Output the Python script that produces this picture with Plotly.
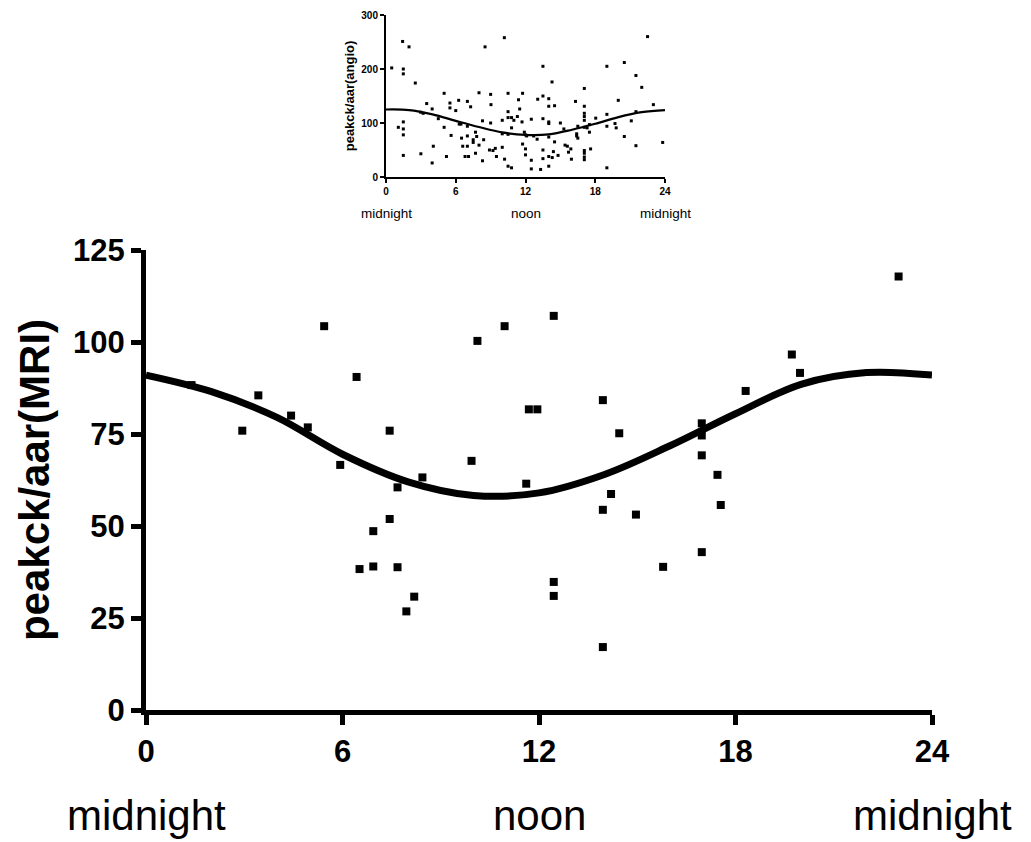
import plotly.graph_objects as go

# ---------------- data ----------------
mri_hour = [1.39, 2.94, 3.43, 4.43, 4.94, 5.44, 5.93, 6.43, 6.52, 6.94, 6.94,
            7.44, 7.44, 7.68, 7.68, 7.95, 8.19, 8.44,
            9.94, 10.12, 10.95, 11.61, 11.69, 11.95, 12.45, 12.45, 12.45,
            13.95, 13.95, 13.95, 14.2, 14.45, 14.96, 15.79,
            16.97, 16.97, 16.97, 16.97, 17.45, 17.55, 18.31, 19.72, 19.97, 22.98]
mri_value = [88.3, 75.9, 85.5, 80.0, 76.8, 104.3, 66.6, 90.5, 38.3, 48.6, 39.0,
             75.9, 51.9, 60.5, 38.8, 26.8, 30.8, 63.2,
             67.7, 100.3, 104.3, 61.5, 81.7, 81.7, 107.1, 34.8, 31.0,
             84.2, 54.4, 17.1, 58.7, 75.2, 53.1, 38.9,
             77.9, 74.6, 69.2, 42.9, 63.9, 55.7, 86.7, 96.6, 91.6, 117.8]
mri_fit_hour = [0, 2, 4, 6, 8, 10, 12, 14, 16, 18, 20, 22, 24]
mri_fit_value = [91, 86.5, 79.5, 69.5, 62, 58.3, 59, 64, 71.8, 80.5, 88.5, 91.7, 91]

angio_hour = [0.49, 1.43, 1.98, 1.49, 1.49, 2.52, 8.52, 10.18, 22.5, 13.5, 14.28, 19.0,
              20.5, 21.5, 22.0, 23.0, 19.98, 17.06,
              3.5, 3.97, 5.0, 5.5, 5.5, 6.25, 6.0, 7.0, 7.28, 8.0, 9.0, 9.03, 10.5,
              11.75, 11.4, 11.5, 13.05, 13.5, 14.0, 14.5, 14.0, 16.3, 17.06, 17.06, 17.06,
              4.5, 2.98, 1.49, 1.06, 1.49, 1.49, 5.0, 6.45, 7.0, 8.3, 9.0, 10.0, 10.5,
              10.5, 10.8, 11.0, 11.3, 10.0, 10.5, 10.8, 11.7, 11.9, 12.0, 12.5, 13.5,
              14.0, 14.0, 14.0, 15.0, 15.3, 16.5, 16.4, 16.5, 17.06, 17.06, 17.3, 17.5,
              18.04, 17.5, 19.0, 19.0, 19.7, 19.8, 21.1, 21.5, 20.5,
              4.07, 3.0, 1.49, 3.97, 5.2, 5.6, 6.5, 6.6, 7.0, 6.8, 7.1, 7.0, 7.7, 7.8,
              8.0, 7.7, 7.5, 7.5, 8.4, 8.3, 9.2, 9.4, 9.5, 10.0, 10.2, 10.5, 10.8,
              11.75, 12.0, 12.0, 12.5, 12.5, 13.3, 13.5, 13.5, 14.0, 14.0, 14.3, 14.5,
              14.4, 14.8, 15.4, 15.6, 15.7, 15.9, 15.95, 16.4, 17.06, 17.06, 17.06,
              17.06, 17.6, 19.0, 21.5, 23.8, 12.1, 12.7, 13.0, 6.3, 8.9, 3.2]
angio_value = [202, 251, 241, 200, 191, 174, 241, 258, 260, 205, 176, 205,
               212, 188, 166, 134, 142, 164,
               136, 126, 155, 137, 128, 142, 123, 140, 130, 156, 153, 134, 155,
               155, 143, 126, 144, 150, 145, 132, 131, 140, 131, 118, 112,
               108, 120, 102, 92, 89, 78, 92, 98, 94, 104, 100, 105, 121,
               110, 110, 105, 112, 80, 79, 91, 102, 83, 78, 107, 108,
               102, 99, 74, 100, 89, 94, 80, 72, 105, 92, 91, 83,
               109, 97, 116, 94, 99, 91, 104, 121, 75,
               57, 43, 40, 26, 38, 77, 72, 57, 57, 38, 38, 76, 83, 75,
               59, 44, 69, 64, 69, 30, 49, 53, 38, 55, 33, 20, 17,
               61, 52, 41, 31, 15, 14, 50, 34, 20, 38, 36, 65,
               47, 40, 59, 57, 46, 52, 33, 76, 49, 44, 37,
               32, 52, 17, 58, 64, 76, 76, 70, 98, 50, 118]
angio_fit_hour = [0, 2, 4, 6, 8, 10, 12, 14, 16, 18, 20, 22, 24]
angio_fit_value = [125, 124, 116, 104, 92.5, 82.5, 78, 79, 87.5, 98.5, 111, 120, 124]

tick_hours = [0, 6, 12, 18, 24]
main_y_ticks = [0, 25, 50, 75, 100, 125]
inset_y_ticks = [0, 100, 200, 300]
time_labels = ["midnight", "noon", "midnight"]
time_label_hours = [0, 12, 24]

FONT = "Liberation Sans, Arial, sans-serif"

fig = go.Figure()

# main chart
fig.add_trace(go.Scatter(x=mri_fit_hour, y=mri_fit_value, mode="lines",
                         line=dict(color="black", width=7, shape="spline"),
                         xaxis="x", yaxis="y", showlegend=False, hoverinfo="skip"))
fig.add_trace(go.Scatter(x=mri_hour, y=mri_value, mode="markers",
                         marker=dict(symbol="square", size=8, color="black"),
                         xaxis="x", yaxis="y", showlegend=False, cliponaxis=False))

# inset chart
fig.add_trace(go.Scatter(x=angio_fit_hour, y=angio_fit_value, mode="lines",
                         line=dict(color="black", width=2.2, shape="spline"),
                         xaxis="x2", yaxis="y2", showlegend=False, hoverinfo="skip"))
fig.add_trace(go.Scatter(x=angio_hour, y=angio_value, mode="markers",
                         marker=dict(symbol="square", size=3, color="black"),
                         xaxis="x2", yaxis="y2", showlegend=False, cliponaxis=False))

main_axis = dict(showgrid=False, zeroline=False, showline=True, linecolor="black",
                 linewidth=5, ticks="outside", ticklen=10, tickwidth=5,
                 tickcolor="black", automargin=False,
                 tickfont=dict(family=FONT, size=31, color="black", weight="bold"))
inset_axis = dict(showgrid=False, zeroline=False, showline=True, linecolor="black",
                  linewidth=2, ticks="outside", ticklen=4, tickwidth=2,
                  tickcolor="black", automargin=False,
                  tickfont=dict(family=FONT, size=10, color="black", weight="bold"))

annotations = []
for h, t in zip(time_label_hours, time_labels):
    annotations.append(dict(x=h, y=0.031, xref="x", yref="paper", text=t,
                            showarrow=False, xanchor="center", yanchor="middle",
                            font=dict(family=FONT, size=42, color="black")))
    annotations.append(dict(x=h, y=0.747, xref="x2", yref="paper", text=t,
                            showarrow=False, xanchor="center", yanchor="middle",
                            font=dict(family=FONT, size=13.5, color="black")))

fig.update_layout(
    width=1031, height=842,
    margin=dict(l=0, r=0, t=0, b=0),
    paper_bgcolor="white", plot_bgcolor="white",
    xaxis=dict(main_axis, domain=[146 / 1031, 932 / 1031], range=[0, 24],
               tickvals=tick_hours, anchor="y"),
    yaxis=dict(main_axis, domain=[1 - 710 / 842, 1 - 250 / 842], range=[0, 125],
               tickvals=main_y_ticks, anchor="x",
               title=dict(text="peakck/aar(MRI)", standoff=12,
                          font=dict(family=FONT, size=42, color="black", weight="bold"))),
    xaxis2=dict(inset_axis, domain=[386 / 1031, 665 / 1031], range=[0, 24],
                tickvals=tick_hours, anchor="y2"),
    yaxis2=dict(inset_axis, domain=[1 - 177 / 842, 1 - 15 / 842], range=[0, 300],
                tickvals=inset_y_ticks, anchor="x2",
                title=dict(text="peakck/aar(angio)", standoff=4,
                           font=dict(family=FONT, size=13, color="black", weight="bold"))),
    annotations=annotations,
)

fig.write_html("out.html", config={"displayModeBar": False},
               post_script="document.body.style.margin='0';")
